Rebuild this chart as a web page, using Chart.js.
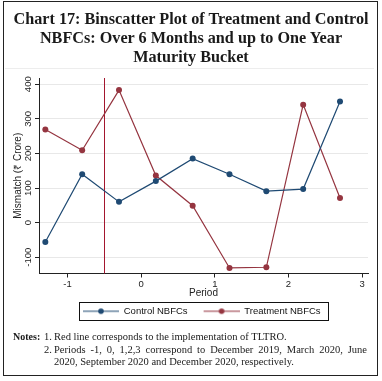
<!DOCTYPE html>
<html><head><meta charset="utf-8">
<script src="https://cdn.jsdelivr.net/npm/chart.js@4.4.0/dist/chart.umd.min.js"></script>
<style>
html,body{margin:0;padding:0;background:#fff;}
#wrap{position:relative;width:382px;height:381px;overflow:hidden;background:#fff;}
#c{position:absolute;left:0;top:0;}
#frame{position:absolute;left:3px;top:1px;width:375px;height:375px;box-sizing:border-box;border:1.5px solid #222;pointer-events:none;}
#sep{position:absolute;left:5px;top:68px;width:369px;height:1px;background:#ededed;}
#title{position:absolute;left:0;top:10px;width:382px;text-align:center;font-family:"Liberation Serif",serif;font-weight:bold;font-size:16.2px;line-height:19.2px;color:#1a1a1a;}
.n{position:absolute;font-family:"Liberation Serif",serif;font-size:10.5px;color:#1a1a1a;line-height:12px;white-space:nowrap;}
#l2{white-space:normal;text-align:justify;text-align-last:justify;width:313px;}
</style></head>
<body><div id="wrap">
<canvas id="c" width="382" height="381"></canvas>
<div id="title"></div>
<div id="sep"></div>
<div class="n" style="left:13px;top:331px;font-weight:bold;font-size:10px;">Notes:</div>
<div class="n" style="left:44px;top:331px;">1.</div>
<div class="n" style="left:54px;top:331px;">Red line corresponds to the implementation of TLTRO.</div>
<div class="n" style="left:44px;top:344px;">2.</div>
<div class="n" id="l2" style="left:54px;top:344px;">Periods -1, 0, 1,2,3 correspond to December 2019, March 2020, June</div>
<div class="n" style="left:54px;top:356px;">2020, September 2020 and December 2020, respectively.</div>
<div id="frame"></div>
</div>
<script>
const periods = [-1.3, -0.8, -0.3, 0.2, 0.7, 1.2, 1.7, 2.2, 2.7];
const controlNBFCs = [-56, 140, 60, 120, 185, 140, 91, 97, 350];
const treatmentNBFCs = [269, 209, 383, 136, 49, -131, -129, 341, 71];
const xTicks = [-1, 0, 1, 2, 3];
const yTicks = [-100, 0, 100, 200, 300, 400];
const tltroPeriod = -0.5;
const titleLines = ['Chart 17: Binscatter Plot of Treatment and Control', 'NBFCs: Over 6 Months and up to One Year', 'Maturity Bucket'];
const seriesNames = ['Control NBFCs', 'Treatment NBFCs'];

const titleEl = document.getElementById('title');
titleLines.forEach((t, i) => {
  if (i) titleEl.appendChild(document.createElement('br'));
  titleEl.appendChild(document.createTextNode(t));
});

const NAVY = '#1f4a73', MAROON = '#953540', VLINE = '#a3162e';
const sans = 'Liberation Sans, Arial, sans-serif';
const LEG_PAD = 6, LEG_FONT = 9.5, LEG_START = 73;

function icon(color) {
  const c = document.createElement('canvas');
  c.width = 46; c.height = 8;
  const g = c.getContext('2d');
  g.strokeStyle = color; g.lineWidth = 1.2;
  g.beginPath(); g.moveTo(10, 4); g.lineTo(46, 4); g.stroke();
  g.fillStyle = color; g.beginPath(); g.arc(28, 4, 2.8, 0, Math.PI * 2); g.fill();
  return c;
}
const icons = [icon(NAVY), icon(MAROON)];

const pts = vals => periods.map((p, i) => ({x: p, y: vals[i]}));

const extras = {
  id: 'extras',
  afterLayout(chart) {
    const lg = chart.legend;
    if (!lg || !lg.lineWidths) return;
    const lw = lg.lineWidths[0];
    const start = (lg.left + LEG_PAD + lg.right - lw) / 2;
    const shift = LEG_START - start;
    lg.left += shift; lg.right += shift;
  },
  beforeDatasetsDraw(chart) {
    const {ctx, chartArea, scales} = chart;
    const x = Math.round(scales.x.getPixelForValue(tltroPeriod)) + 0.5;
    ctx.save();
    ctx.strokeStyle = VLINE; ctx.lineWidth = 1;
    ctx.beginPath(); ctx.moveTo(x, chartArea.top); ctx.lineTo(x, chartArea.bottom); ctx.stroke();
    ctx.restore();
  },
  afterDraw(chart) {
    const lg = chart.legend;
    if (!lg || !lg.lineWidths) return;
    const contentW = lg.lineWidths[0] - LEG_PAD;
    const left = LEG_START + 10 - 4;
    const right = LEG_START + contentW + 7;
    const cy = lg.top + LEG_PAD + LEG_FONT / 2;
    const ctx = chart.ctx;
    ctx.save();
    ctx.strokeStyle = '#111'; ctx.lineWidth = 1;
    ctx.strokeRect(Math.round(left) + 0.5, Math.round(cy - 9) + 0.5, Math.round(right - left), 18);
    ctx.restore();
  }
};

new Chart(document.getElementById('c'), {
  type: 'line',
  data: {
    datasets: [
      {label: seriesNames[0], data: pts(controlNBFCs), borderColor: NAVY, backgroundColor: NAVY, borderWidth: 1.2, pointRadius: 3, pointBorderWidth: 0, pointBackgroundColor: NAVY, tension: 0},
      {label: seriesNames[1], data: pts(treatmentNBFCs), borderColor: MAROON, backgroundColor: MAROON, borderWidth: 1.2, pointRadius: 3, pointBorderWidth: 0, pointBackgroundColor: MAROON, tension: 0}
    ]
  },
  options: {
    responsive: false, animation: false, devicePixelRatio: 1,
    layout: {padding: {left: 0, right: 14, top: 78, bottom: 55}},
    plugins: {
      title: {display: false},
      legend: {display: true, position: 'bottom', fullSize: false,
        labels: {usePointStyle: true, pointStyleWidth: 46, padding: LEG_PAD, color: '#111',
          font: {family: sans, size: LEG_FONT},
          generateLabels(chart) {
            const items = Chart.defaults.plugins.legend.labels.generateLabels(chart);
            items.forEach((it, i) => { it.pointStyle = icons[i]; });
            return items;
          }}},
      tooltip: {enabled: false}
    },
    scales: {
      x: {type: 'linear', min: -1.386, max: 3.08,
        afterBuildTicks: s => { s.ticks = xTicks.map(v => ({value: v})); },
        afterFit: s => { s.height = 27; },
        grid: {drawOnChartArea: false, tickColor: '#222', tickLength: 4},
        border: {color: '#222', width: 1},
        ticks: {padding: 1, maxRotation: 0, color: '#222', font: {family: sans, size: 9.5}},
        title: {display: true, text: 'Period', color: '#222', font: {family: sans, size: 10}, padding: {top: 0, bottom: 1}}
      },
      y: {min: -147, max: 418,
        afterBuildTicks: s => { s.ticks = yTicks.map(v => ({value: v})); },
        afterFit: s => { s.width = 39; },
        grid: {color: '#e8e8e8', lineWidth: 1, tickColor: '#222', tickLength: 4},
        border: {color: '#222', width: 1},
        ticks: {minRotation: 90, maxRotation: 90, crossAlign: 'center', padding: -3, color: '#222', font: {family: sans, size: 9.5}},
        title: {display: true, text: 'Mismatch (₹ Crore)', color: '#222', font: {family: sans, size: 10}, padding: {top: 12, bottom: 0}}
      }
    }
  },
  plugins: [extras]
});
</script>
</body></html>
